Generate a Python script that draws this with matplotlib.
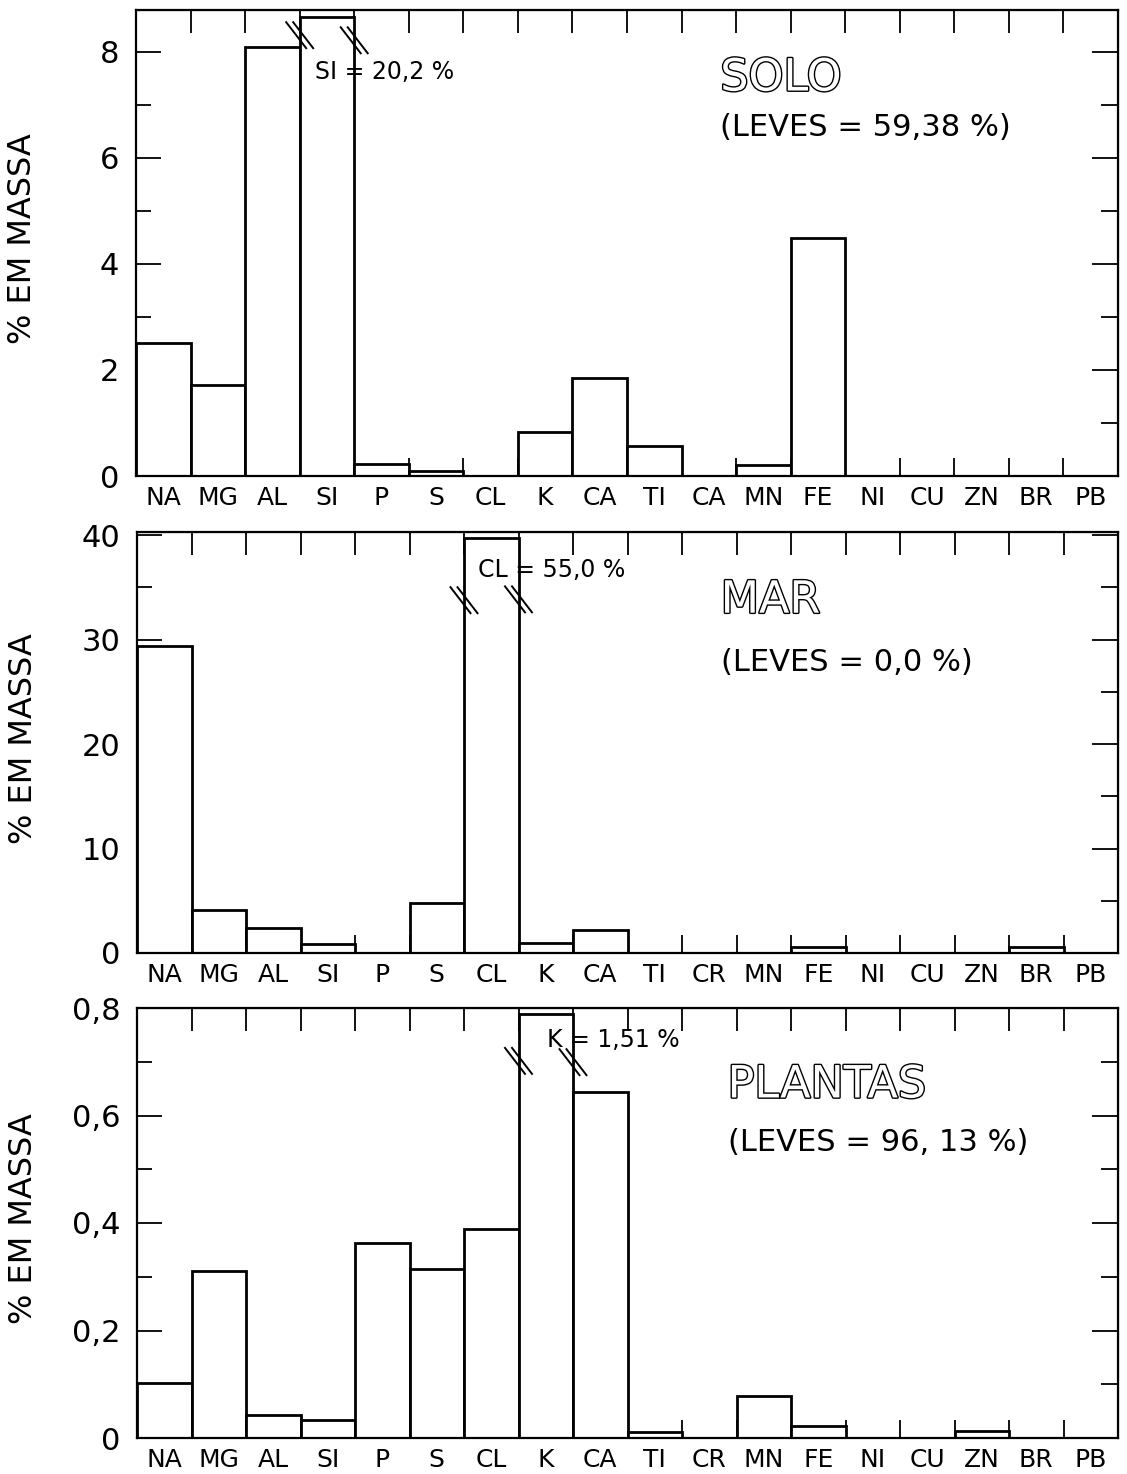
import numpy as np
import matplotlib
matplotlib.use('Agg')
import matplotlib.pyplot as plt
import matplotlib.patheffects as pe
from matplotlib import transforms
from matplotlib.lines import Line2D

# ---------------- data ----------------
labels_solo = ["NA", "MG", "AL", "SI", "P", "S", "CL", "K", "CA", "TI", "CA", "MN", "FE", "NI", "CU", "ZN", "BR", "PB"]
labels_mar = ["NA", "MG", "AL", "SI", "P", "S", "CL", "K", "CA", "TI", "CR", "MN", "FE", "NI", "CU", "ZN", "BR", "PB"]
labels_plantas = ["NA", "MG", "AL", "SI", "P", "S", "CL", "K", "CA", "TI", "CR", "MN", "FE", "NI", "CU", "ZN", "BR", "PB"]

solo = [2.51, 1.72, 8.1, 20.2, 0.22, 0.09, 0.0, 0.83, 1.85, 0.57, 0.0, 0.21, 4.49, 0.0, 0.0, 0.0, 0.0, 0.0]
mar = [29.4, 4.1, 2.4, 0.9, 0.0, 4.8, 55.0, 1.0, 2.2, 0.0, 0.0, 0.0, 0.6, 0.0, 0.0, 0.0, 0.6, 0.0]
plantas = [0.102, 0.31, 0.043, 0.033, 0.363, 0.315, 0.389, 1.51, 0.644, 0.011, 0.0, 0.078, 0.022, 0.0, 0.0, 0.013, 0.0, 0.0]

solo_yticks = [0, 2, 4, 6, 8]
solo_yticklabels = ["0", "2", "4", "6", "8"]
mar_yticks = [0, 10, 20, 30, 40]
mar_yticklabels = ["0", "10", "20", "30", "40"]
plantas_yticks = [0, 0.2, 0.4, 0.6, 0.8]
plantas_yticklabels = ["0", "0,2", "0,4", "0,6", "0,8"]

titles = ["SOLO", "MAR", "PLANTAS"]
leves = ["(LEVES = 59,38 %)", "(LEVES = 0,0 %)", "(LEVES = 96, 13 %)"]
break_labels = ["SI = 20,2 %", "CL = 55,0 %", "K = 1,51 %"]
ylabel = "% EM MASSA"

# ---------------- style ----------------
plt.rcParams['font.family'] = ['DejaVu Sans']

W, H = 1127, 1474
fig = plt.figure(figsize=(W / 100, H / 100), dpi=100)

def frac_rect(left, top, right, bottom):
    return [left / W, 1 - bottom / H, (right - left) / W, (bottom - top) / H]

panels = [
    dict(rect=frac_rect(136, 10, 1118, 476), vals=solo, labels=labels_solo, ylim=8.79,
         yticks=solo_yticks, ytl=solo_yticklabels, minor=1.0,
         brk_y=(0.946, 0.935), txt=(3.28, 0.867), title_y=(0.854, 0.747), title_x=0.595),
    dict(rect=frac_rect(137, 532, 1118, 953), vals=mar, labels=labels_mar, ylim=40.3,
         yticks=mar_yticks, ytl=mar_yticklabels, minor=5.0,
         brk_y=(0.838, 0.840), txt=(6.26, 0.91), title_y=(0.838, 0.691), title_x=0.595),
    dict(rect=frac_rect(137, 1008, 1118, 1438), vals=plantas, labels=labels_plantas, ylim=0.8,
         yticks=plantas_yticks, ytl=plantas_yticklabels, minor=0.1,
         brk_y=(0.877, 0.874), txt=(7.52, 0.926), title_y=(0.821, 0.688), title_x=0.602),
]

LW = 2.0
for k, p in enumerate(panels):
    ax = fig.add_axes(p['rect'])
    vals = np.array(p['vals'], dtype=float)
    n = len(vals)
    cap = p['ylim'] * 0.985
    heights = np.minimum(vals, cap)
    ax.bar(np.arange(n), heights, width=1.0, align='edge', facecolor='white',
           edgecolor='black', linewidth=LW, zorder=2)
    ax.set_xlim(0, n)
    ax.set_ylim(0, p['ylim'])
    for s in ax.spines.values():
        s.set_linewidth(1.6)

    # x ticks: boundaries (major, no labels), centers (minor, labels)
    ax.set_xticks(np.arange(n + 1))
    ax.set_xticklabels([])
    ax.set_xticks(np.arange(n) + 0.5, minor=True)
    ax.set_xticklabels(p['labels'], minor=True, fontsize=18)
    ax.tick_params(axis='x', which='major', direction='in', length=13, width=1.3, bottom=True, top=False)
    ax.tick_params(axis='x', which='minor', length=0, pad=7)

    # y ticks
    ax.set_yticks(p['yticks'])
    ax.set_yticklabels(p['ytl'], fontsize=22)
    ax.set_yticks(np.arange(0, p['ylim'] + 1e-9, p['minor']), minor=True)
    ax.tick_params(axis='y', which='major', direction='in', length=18, width=1.3, pad=12, left=True, right=False)
    ax.tick_params(axis='y', which='minor', direction='in', length=11, width=1.3, left=True, right=False)
    ax.yaxis.set_minor_formatter(plt.NullFormatter())

    # top ticks
    sx = ax.secondary_xaxis('top')
    sx.set_xticks(np.arange(n + 1))
    sx.set_xticklabels([])
    sx.tick_params(direction='in', length=16.5, width=1.3)
    # right ticks
    sy = ax.secondary_yaxis('right')
    sy.set_yticks(p['yticks'])
    sy.set_yticklabels([])
    sy.set_yticks(np.arange(0, p['ylim'] + 1e-9, p['minor']), minor=True)
    sy.tick_params(which='major', direction='in', length=19, width=1.3)
    sy.tick_params(which='minor', direction='in', length=12, width=1.3)
    sy.yaxis.set_minor_formatter(plt.NullFormatter())

    ax.set_ylabel(ylabel, fontsize=23)
    ax.yaxis.set_label_coords(-0.100, 0.51)

    # break marks on the clipped bar
    bi = int(np.argmax(vals > cap))
    blend = transforms.blended_transform_factory(ax.transData, ax.transAxes)
    for edge, yfrac in zip((bi, bi + 1), p['brk_y']):
        tr = fig.dpi_scale_trans + transforms.ScaledTranslation(edge, yfrac, blend)
        for off in (-0.035, 0.035):
            ax.add_line(Line2D([off - 0.10, off + 0.10], [0.13, -0.13], transform=tr,
                               color='black', linewidth=1.4, clip_on=False, zorder=4))
    ax.text(p['txt'][0], p['txt'][1], break_labels[k], transform=blend, fontsize=17,
            ha='left', va='center', zorder=5)

    # titles
    ax.text(p['title_x'], p['title_y'][0], titles[k], transform=ax.transAxes,
            fontsize=32, color='white', ha='left', va='center',
            path_effects=[pe.Stroke(linewidth=2.0, foreground='black'), pe.Normal()])
    ax.text(p['title_x'], p['title_y'][1], leves[k], transform=ax.transAxes,
            fontsize=22, ha='left', va='center')

fig.savefig('out.png', dpi=100)
